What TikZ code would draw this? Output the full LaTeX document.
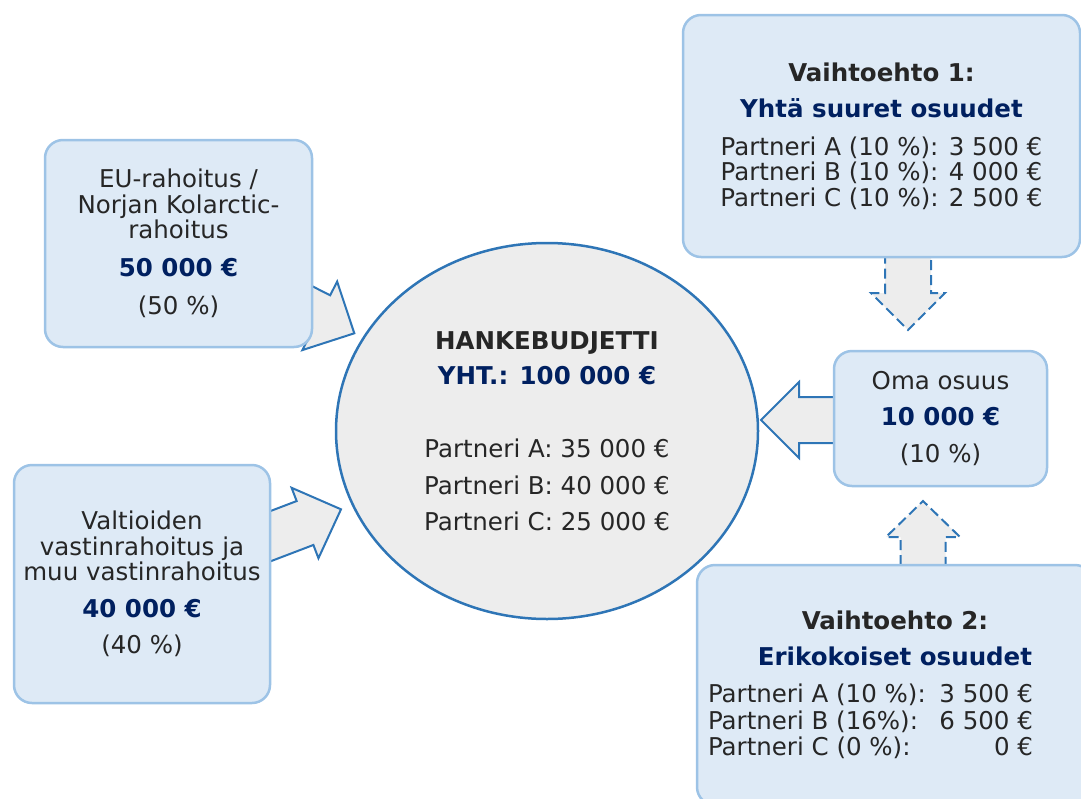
\documentclass[tikz,border=0pt]{standalone}
\usepackage{fontspec}
\setmainfont{DejaVu Sans}
\usetikzlibrary{calc,shapes.geometric}
\definecolor{boxfill}{HTML}{DEEAF6}
\definecolor{boxline}{HTML}{9DC3E6}
\definecolor{budgetfill}{HTML}{EDEDED}
\definecolor{budgetline}{HTML}{2E75B6}
\definecolor{hbnavy}{HTML}{002060}
\definecolor{darktext}{HTML}{262626}
\tikzset{
  box/.style={draw=boxline, fill=boxfill, line width=2.5pt, rounded corners=18pt,
    inner sep=0pt, align=center, text=darktext, font=\fontsize{24.5}{25.5}\selectfont},
  budget/.style={ellipse, draw=budgetline, fill=budgetfill, line width=2.5pt,
    inner sep=0pt, align=center, text=darktext, font=\fontsize{24.5}{25.5}\selectfont},
  arrowline/.style={draw=budgetline, fill=budgetfill, line width=2pt},
  dashedarrow/.style={arrowline, dash pattern=on 10pt off 5pt},
}
\newcommand\sumtext[1]{\textbf{\color{hbnavy}#1}}
% block arrow: tail, tip, shaft half width, head half width, head length
\newcommand\blockarrow[6][]{%
  \path ($(#3)!#6!(#2)$) coordinate (hb);
  \draw[arrowline,#1] ($(#2)!#4!90:(#3)$) -- ($(hb)!#4!90:(#3)$) -- ($(hb)!#5!90:(#3)$)
    -- (#3) -- ($(hb)!#5!-90:(#3)$) -- ($(hb)!#4!-90:(#3)$) -- ($(#2)!#4!-90:(#3)$) -- cycle;
}
\newcommand\partrow[2]{\makebox[374pt][l]{\makebox[225pt][l]{#1}\makebox[100pt][r]{#2}}}
\begin{document}
\begin{tikzpicture}[x=1pt,y=-1pt]
\useasboundingbox (0,0) rectangle (1081,798);
\clip (0,0) rectangle (1081,798);

\coordinate (euT) at (279.7,295.5);
\coordinate (euH) at (354.3,333.3);
\coordinate (valT) at (248.9,544.4);
\coordinate (valH) at (341,509.3);
\coordinate (omaT) at (850,420);
\coordinate (omaH) at (761,420);
\coordinate (optaT) at (908,245);
\coordinate (optaH) at (908,330);
\coordinate (optbT) at (923,580);
\coordinate (optbH) at (923,501);

\blockarrow{euT}{euH}{23pt}{38.4pt}{38.7pt}
\blockarrow{valT}{valH}{23.5pt}{37.7pt}{38.5pt}
\blockarrow{omaT}{omaH}{23pt}{38pt}{38pt}
\blockarrow[dashedarrow]{optaT}{optaH}{23pt}{37pt}{37pt}
\blockarrow[dashedarrow]{optbT}{optbH}{22.5pt}{37pt}{36pt}

\node[budget, minimum width=422pt, minimum height=376pt] (budget) at (547,431)
  {\textbf{HANKEBUDJETTI}\\[9.5pt] \sumtext{YHT.: 100 000 €}\\[47.5pt]
   Partneri A: 35 000 €\\[11.5pt] Partneri B: 40 000 €\\[10.5pt] Partneri C: 25 000 €};

\node[box, minimum width=267pt, minimum height=207pt] (eu) at (178.5,243.5)
  {EU-rahoitus /\\ Norjan Kolarctic-\\ rahoitus\\[12.5pt] \sumtext{50 000 €}\\[12.5pt] (50 \%)};

\node[box, minimum width=256pt, minimum height=238pt] (val) at (142,584)
  {Valtioiden\\ vastinrahoitus ja\\ muu vastinrahoitus\\[11.5pt] \sumtext{40 000 €}\\[10.5pt] (40 \%)};

\node[box, minimum width=397pt, minimum height=242pt] (opta) at (881.5,136)
  {\textbf{Vaihtoehto 1:}\\[10.5pt] \sumtext{Yhtä suuret osuudet}\\[12.5pt]
   Partneri A (10 \%): 3 500 €\\ Partneri B (10 \%): 4 000 €\\ Partneri C (10 \%): 2 500 €};

\node[box, minimum width=213pt, minimum height=135pt] (oma) at (940.5,418.5)
  {Oma osuus\\[10.5pt] \sumtext{10 000 €}\\[11.5pt] (10 \%)};

\node[box, minimum width=396pt, minimum height=240pt] (optb) at (895,685)
  {\textbf{Vaihtoehto 2:}\\[10.5pt] \sumtext{Erikokoiset osuudet}\\[11.5pt]
   \partrow{Partneri A (10 \%):}{3 500 €}\\[1.5pt]
   \partrow{Partneri B (16\%):}{6 500 €}\\
   \partrow{Partneri C (0 \%):}{0 €}};
\end{tikzpicture}
\end{document}
